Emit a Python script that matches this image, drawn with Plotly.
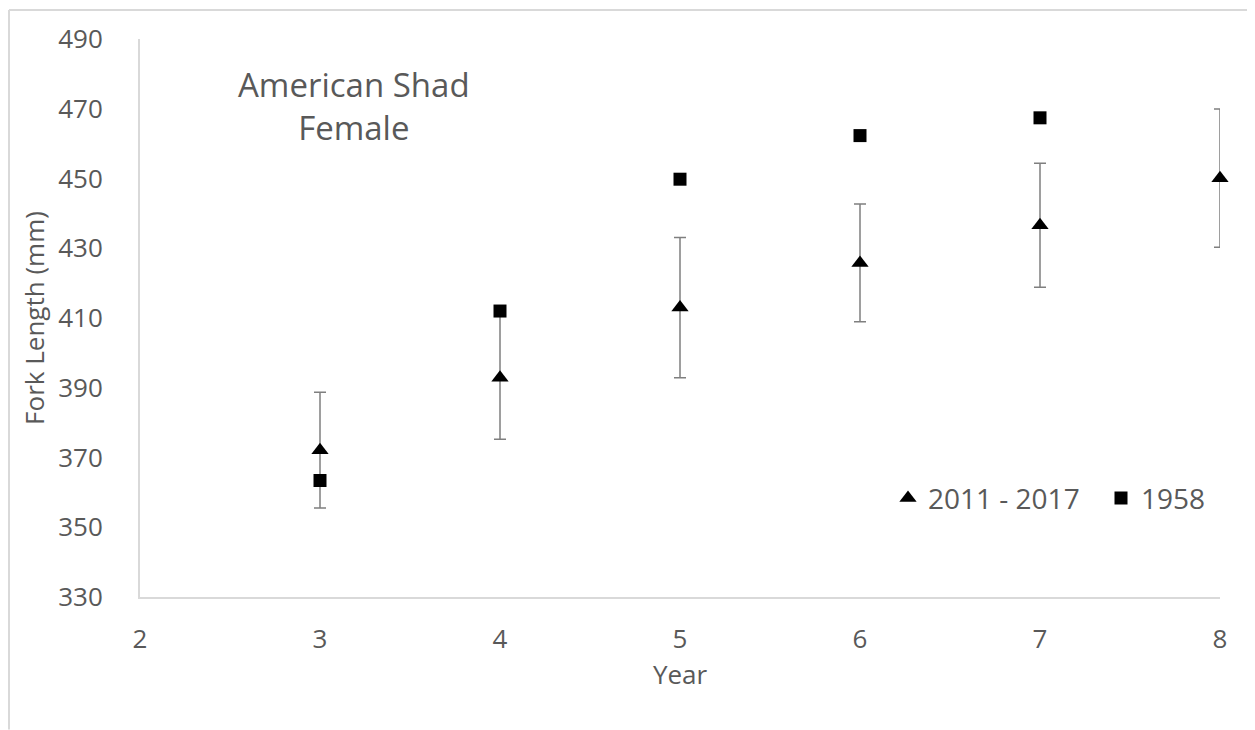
import plotly.graph_objects as go

# ---- data ----
years_recent = [3, 4, 5, 6, 7, 8]
fl_recent = [372.1, 392.9, 413.0, 425.8, 436.6, 450.1]
err_recent = [16.6, 17.7, 20.1, 16.9, 17.8, 19.8]

years_1958 = [3, 4, 5, 6, 7]
fl_1958 = [363.4, 412.0, 449.8, 462.3, 467.4]

x_ticks = [2, 3, 4, 5, 6, 7, 8]
y_ticks = [330, 350, 370, 390, 410, 430, 450, 470, 490]

# ---- layout constants (page has an 8px body margin) ----
OFF = 8
W, H = 1255 - OFF, 730 - OFF
ML, MT = 140 - OFF, 37 - OFF
PW, PH = 1080, 560
MR = W - ML - PW
MB = H - MT - PH
FONT = "Open Sans"
TXT = "#595959"
AXC = "#d9d9d9"


def px_x(p):  # page pixel -> paper x
    return (p - OFF - ML) / PW


def px_y(p):  # page pixel -> paper y
    return (MT + PH - (p - OFF)) / PH


fig = go.Figure()
fig.add_trace(go.Scatter(
    x=years_recent, y=fl_recent, mode="markers", name="2011 - 2017",
    marker=dict(symbol="triangle-up", size=15, color="black"),
    error_y=dict(type="data", array=err_recent, visible=True,
                 color="#7f7f7f", thickness=1.5, width=6),
    cliponaxis=False, legend="legend",
))
fig.add_trace(go.Scatter(
    x=years_1958, y=fl_1958, mode="markers", name="1958",
    marker=dict(symbol="square", size=13, color="black"),
    cliponaxis=False, legend="legend2",
))

fig.add_annotation(
    text="American Shad<br>Female", xref="paper", yref="paper",
    x=px_x(354), y=px_y(104), xanchor="center", yanchor="middle",
    showarrow=False, font=dict(family=FONT, size=33, color=TXT), align="center",
)

# outer chart border (top and left)
fig.add_shape(type="line", xref="paper", yref="paper",
              x0=px_x(9), x1=px_x(1255), y0=px_y(8), y1=px_y(8),
              line=dict(color=AXC, width=2))
fig.add_shape(type="line", xref="paper", yref="paper",
              x0=px_x(9), x1=px_x(9), y0=px_y(8), y1=px_y(730),
              line=dict(color=AXC, width=2))

leg_common = dict(orientation="v", xanchor="left", yanchor="middle",
                  font=dict(family=FONT, size=28, color=TXT),
                  bgcolor="rgba(0,0,0,0)", itemwidth=30)

fig.update_layout(
    width=W, height=H,
    margin=dict(l=ML, r=MR, t=MT, b=MB, pad=0),
    paper_bgcolor="white", plot_bgcolor="white",
    font=dict(family=FONT, size=26, color=TXT),
    showlegend=True,
    legend=dict(x=px_x(888), y=px_y(498), **leg_common),
    legend2=dict(x=px_x(1101), y=px_y(498), **leg_common),
    xaxis=dict(range=[2, 8], tickvals=x_ticks, ticktext=[str(v) for v in x_ticks],
               showgrid=False, zeroline=False, showline=True, linecolor=AXC,
               linewidth=2, ticks="", ticklabelstandoff=18,
               title=dict(text="Year", font=dict(family=FONT, size=26, color=TXT),
                          standoff=0)),
    yaxis=dict(range=[330, 490], tickvals=y_ticks, ticktext=[str(v) for v in y_ticks],
               showgrid=False, zeroline=False, showline=True, linecolor=AXC,
               linewidth=2, ticks="", ticklabelstandoff=30,
               title=dict(text="Fork Length (mm)",
                          font=dict(family=FONT, size=26, color=TXT), standoff=6)),
)

fig.write_html("out.html")
